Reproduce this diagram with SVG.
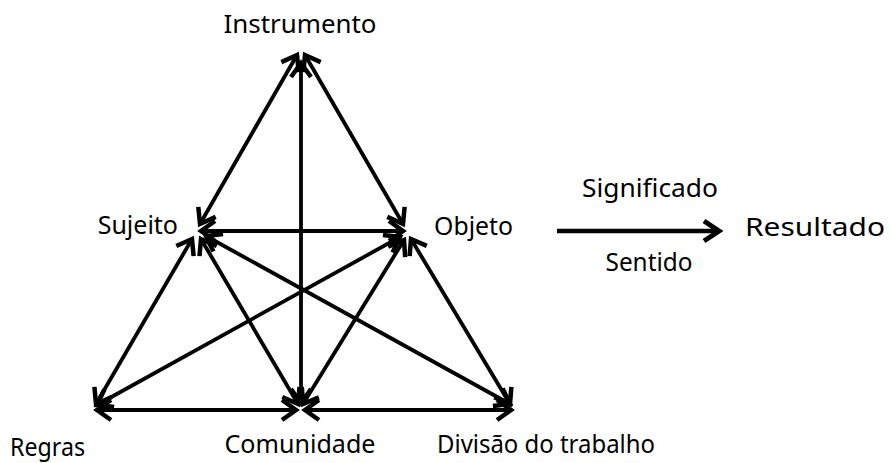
<svg xmlns="http://www.w3.org/2000/svg" width="891" height="463" viewBox="0 0 891 463">
<defs>
<marker id="ah" markerUnits="userSpaceOnUse" viewBox="-20 -12 24 24" markerWidth="24" markerHeight="24" refX="0" refY="0" orient="auto-start-reverse" overflow="visible">
<path d="M-14,-10 L0,0 L-14,10" fill="none" stroke="#000" stroke-width="4.5"/>
</marker>
<marker id="ahBig" markerUnits="userSpaceOnUse" viewBox="-20 -14 24 28" markerWidth="24" markerHeight="28" refX="0" refY="0" orient="auto" overflow="visible">
<path d="M-15,-10 L0,0 L-15,10" fill="none" stroke="#000" stroke-width="5"/>
</marker>
</defs>
<style>
.c line{stroke:#000;stroke-width:3.8;marker-start:url(#ah);marker-end:url(#ah)}
.c line.one{marker-start:none;marker-end:url(#ahBig);stroke-width:4.5}
text{font-family:"Noto Sans","Open Sans","DejaVu Sans",sans-serif;font-size:25px;fill:#000}
</style>
<rect width="891" height="463" fill="#fff"/>
<g id="connectors" class="c">
<line x1="297" y1="55" x2="200" y2="224"/>
<line x1="305" y1="55" x2="403" y2="224"/>
<line x1="301" y1="63" x2="301" y2="403"/>
<line x1="201" y1="231" x2="403" y2="231"/>
<line x1="192" y1="239" x2="96" y2="404"/>
<line x1="201" y1="239" x2="298" y2="404"/>
<line x1="206" y1="236" x2="510" y2="404"/>
<line x1="400" y1="237" x2="97" y2="405"/>
<line x1="404" y1="240" x2="303" y2="404"/>
<line x1="411" y1="239" x2="510" y2="404"/>
<line x1="97" y1="410" x2="296" y2="410"/>
<line x1="305" y1="410" x2="511" y2="410"/>
<line class="one" x1="557" y1="231" x2="719" y2="231"/>
</g>
<g id="instrumento"><text x="300" y="33" text-anchor="middle" textLength="153" lengthAdjust="spacingAndGlyphs">Instrumento</text></g>
<g id="sujeito"><text x="178" y="234" text-anchor="end">Sujeito</text></g>
<g id="objeto"><text x="434" y="235" textLength="79" lengthAdjust="spacingAndGlyphs">Objeto</text></g>
<g id="significado"><text x="650" y="197" text-anchor="middle" textLength="136" lengthAdjust="spacingAndGlyphs">Significado</text></g>
<g id="sentido"><text x="649" y="271" text-anchor="middle" textLength="87" lengthAdjust="spacingAndGlyphs">Sentido</text></g>
<g id="resultado"><text x="745" y="236" textLength="140" lengthAdjust="spacingAndGlyphs">Resultado</text></g>
<g id="regras"><text x="10" y="456" textLength="75" lengthAdjust="spacingAndGlyphs">Regras</text></g>
<g id="comunidade"><text x="300" y="453" text-anchor="middle" textLength="151" lengthAdjust="spacingAndGlyphs">Comunidade</text></g>
<g id="divisao"><text x="437" y="453" textLength="218" lengthAdjust="spacingAndGlyphs">Divisão do trabalho</text></g>
</svg>
